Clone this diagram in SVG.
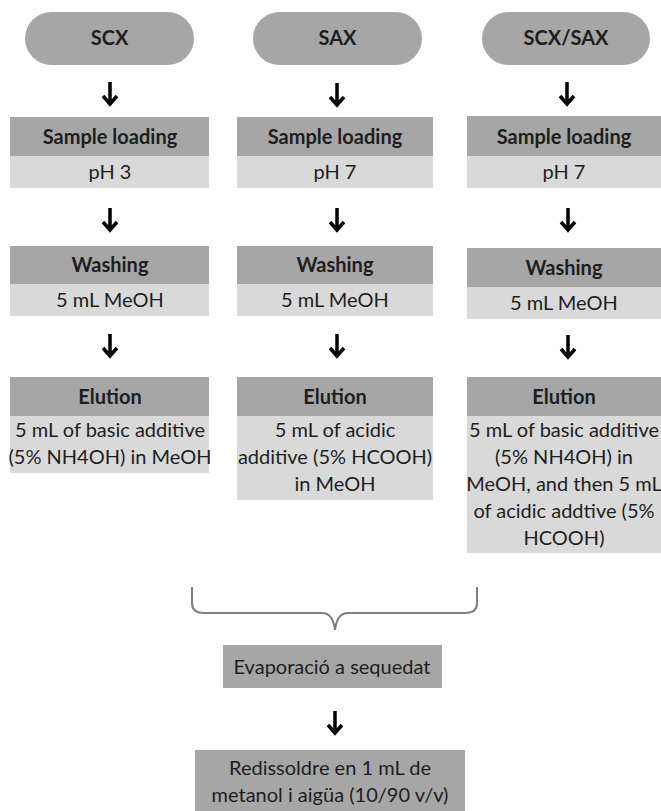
<svg xmlns="http://www.w3.org/2000/svg" xmlns:xlink="http://www.w3.org/1999/xlink" width="661" height="811" viewBox="0 0 661 811">
<defs>
<style>
text{font-family:Lato,"Open Sans","Liberation Sans",sans-serif;font-size:20px;fill:#1e1e1e;text-anchor:middle}
.b{font-weight:bold}
.pill,.hd,.dk{fill:#a6a6a6}
.bd{fill:#d9d9d9}
.arr{fill:none;stroke:#000;stroke-width:3.5;stroke-linejoin:miter}
.brace{fill:none;stroke:#7f7f7f;stroke-width:2}
</style>
<g id="arrow"><path class="arr" d="M0,0 V22 M-7,14 L0,22 L7,14"/></g>
</defs>
<rect width="661" height="811" fill="#fff"/>

<g id="scx"><rect class="pill" x="25" y="12" width="169" height="53" rx="26.5"/><text class="b" x="109.5" y="45">SCX</text></g>
<g id="sax"><rect class="pill" x="253" y="12" width="169" height="53" rx="26.5"/><text class="b" x="337.5" y="45">SAX</text></g>
<g id="scxsax"><rect class="pill" x="482" y="12" width="168" height="53" rx="26.5"/><text class="b" x="566" y="45">SCX/SAX</text></g>

<g id="load1"><rect class="hd" x="10" y="117" width="199" height="39"/><rect class="bd" x="10" y="156" width="199" height="32"/><text class="b" x="110" y="144">Sample loading</text><text x="110" y="179">pH 3</text></g>
<g id="load2"><rect class="hd" x="237" y="117" width="196" height="39"/><rect class="bd" x="237" y="156" width="196" height="32"/><text class="b" x="335" y="144">Sample loading</text><text x="335" y="179">pH 7</text></g>
<g id="load3"><rect class="hd" x="467" y="116" width="194" height="40"/><rect class="bd" x="467" y="156" width="194" height="32"/><text class="b" x="564" y="144">Sample loading</text><text x="564" y="179">pH 7</text></g>

<g id="wash1"><rect class="hd" x="10" y="246" width="199" height="38"/><rect class="bd" x="10" y="284" width="199" height="32"/><text class="b" x="110" y="272">Washing</text><text x="110" y="307">5 mL MeOH</text></g>
<g id="wash2"><rect class="hd" x="237" y="246" width="196" height="38"/><rect class="bd" x="237" y="284" width="196" height="32"/><text class="b" x="335" y="272">Washing</text><text x="335" y="307">5 mL MeOH</text></g>
<g id="wash3"><rect class="hd" x="467" y="248" width="194" height="39"/><rect class="bd" x="467" y="287" width="194" height="32"/><text class="b" x="564" y="275">Washing</text><text x="564" y="310">5 mL MeOH</text></g>

<g id="elu1"><rect class="hd" x="10" y="377" width="199" height="39"/><rect class="bd" x="10" y="416" width="199" height="57"/><text class="b" x="110" y="404">Elution</text><text x="110" y="437">5 mL of basic additive</text><text x="110" y="464">(5% NH4OH) in MeOH</text></g>
<g id="elu2"><rect class="hd" x="237" y="377" width="196" height="39"/><rect class="bd" x="237" y="416" width="196" height="84"/><text class="b" x="335" y="404">Elution</text><text x="335" y="437">5 mL of acidic</text><text x="335" y="464">additive (5% HCOOH)</text><text x="335" y="491">in MeOH</text></g>
<g id="elu3"><rect class="hd" x="467" y="377" width="194" height="39"/><rect class="bd" x="467" y="416" width="194" height="137"/><text class="b" x="564" y="404">Elution</text><text x="564" y="437">5 mL of basic additive</text><text x="564" y="464">(5% NH4OH) in</text><text x="564" y="491">MeOH, and then 5 mL</text><text x="564" y="518">of acidic addtive (5%</text><text x="564" y="545">HCOOH)</text></g>

<g id="evap"><rect class="dk" x="223" y="645" width="219" height="43"/><text x="332" y="674">Evaporació a sequedat</text></g>
<g id="redis"><rect class="dk" x="195" y="750" width="270" height="61"/><text x="330" y="775">Redissoldre en 1 mL de</text><text x="330" y="802">metanol i aigüa (10/90 v/v)</text></g>

<g id="connectors">
<use xlink:href="#arrow" x="110" y="82"/>
<use xlink:href="#arrow" x="337" y="83"/>
<use xlink:href="#arrow" x="567" y="82"/>
<use xlink:href="#arrow" x="110" y="208"/>
<use xlink:href="#arrow" x="337" y="208"/>
<use xlink:href="#arrow" x="568" y="208"/>
<use xlink:href="#arrow" x="110" y="334"/>
<use xlink:href="#arrow" x="337" y="334"/>
<use xlink:href="#arrow" x="568" y="335"/>
<path class="brace" d="M192,587 V603 Q192,613 204,613 H322 Q333,613 335,630 Q337,613 348,613 H465 Q477,613 477,603 V587"/>
<use xlink:href="#arrow" x="335" y="711"/>
</g>
</svg>
